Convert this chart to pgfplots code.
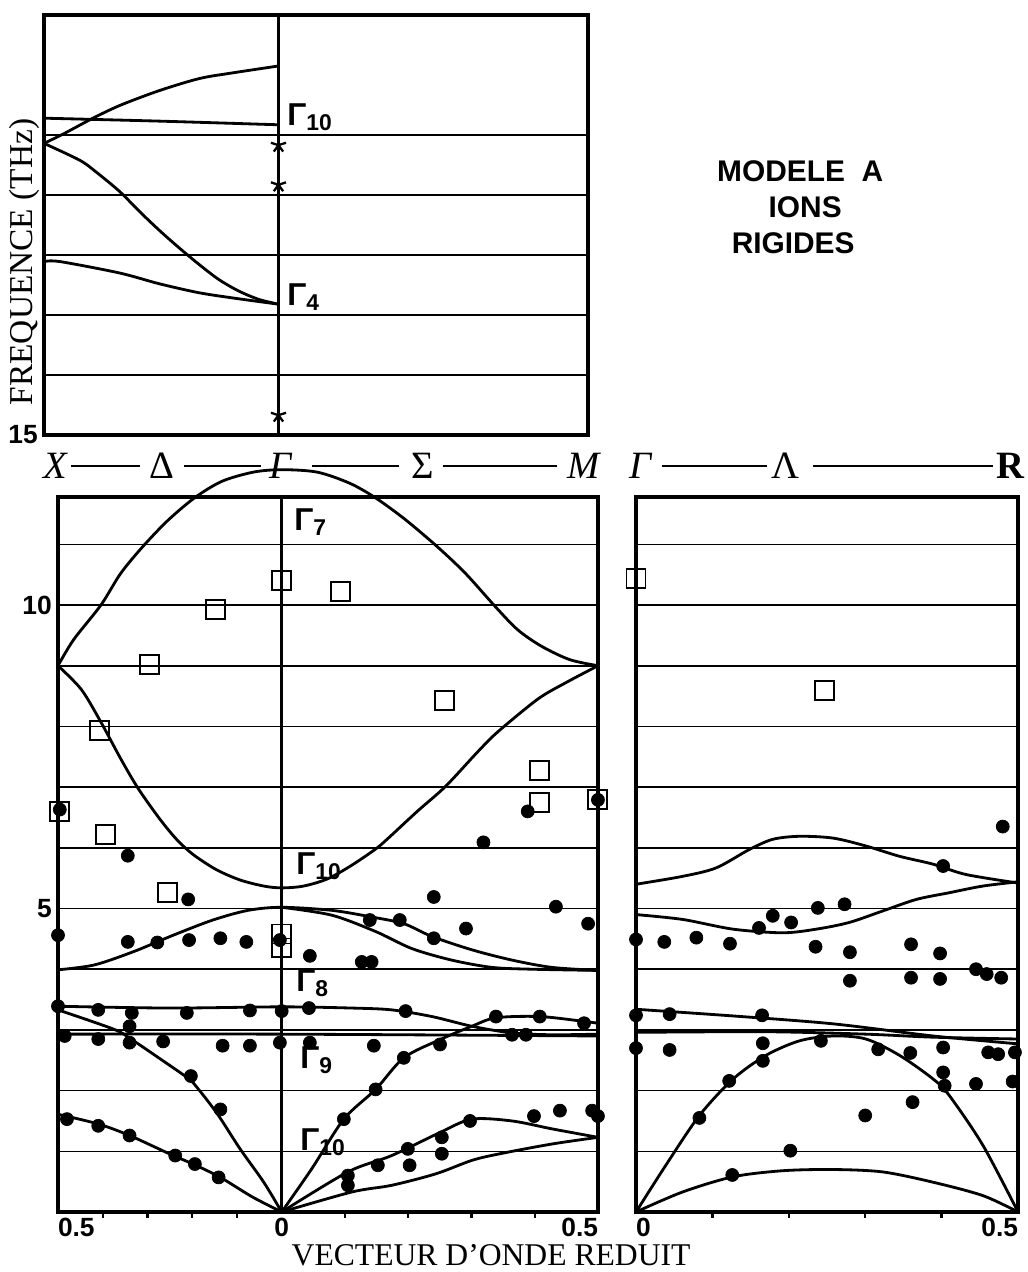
\documentclass[border=0pt]{standalone}
\usepackage{fontspec}
\setmainfont{Liberation Serif}
\setsansfont{Liberation Sans}
\usepackage{pgfplots}
\pgfplotsset{compat=1.18}

\pgfplotsset{
  panel/.style={
    anchor=south west, scale only axis, clip=false,
    axis line style={line width=2pt},
    ymajorgrids, grid style={black, line width=0.9pt},
    major tick length=0pt, minor tick length=0.12cm,
    tick align=outside, xtick pos=lower,
    minor tick style={black, line width=1.4pt},
    tick label style={font=\sffamily\bfseries\fontsize{15}{15}\selectfont},
  },
  curve/.style={black, line width=1.6pt, smooth, tension=0.5, no markers},
  dots/.style={only marks, mark=*, mark size=3.7pt, black},
  boxes/.style={only marks, mark=square, mark size=5.4pt, black, mark options={line width=1.1pt}},
}

\begin{document}
\begin{tikzpicture}

% ---- upper panel, 15-22 THz
\begin{axis}[panel, at={(0.88cm,16.74cm)}, width=10.88cm, height=8.4cm,
  xmin=-0.5, xmax=0.66, ymin=15, ymax=22,
  xtick=\empty, ytick={15,...,20}, yticklabels={15,,,,,}]
\draw[line width=2pt] (axis cs:0,15) -- (axis cs:0,22);
\addplot[curve] coordinates {(-0.5,19.86) (-0.458,20.02) (-0.398,20.27) (-0.339,20.49) (-0.254,20.74) (-0.169,20.94) (-0.102,21.03) (0,21.15)};
\addplot[curve] coordinates {(-0.5,20.28) (-0.25,20.23) (0,20.17)};
\addplot[curve] coordinates {(-0.5,19.86) (-0.424,19.58) (-0.390,19.39) (-0.339,19.06) (-0.297,18.73) (-0.254,18.41) (-0.212,18.12) (-0.169,17.84) (-0.127,17.59) (-0.085,17.40) (-0.042,17.26) (0,17.18)};
\addplot[curve] coordinates {(-0.5,17.89) (-0.466,17.89) (-0.339,17.70) (-0.254,17.52) (-0.169,17.37) (-0.085,17.27) (0,17.18)};
\addplot[only marks, mark=star, mark size=4.5pt, black, mark options={line width=1.3pt}] coordinates {(0,19.83) (0,19.17) (0,15.33)};
\end{axis}

% ---- X - Gamma - M panel
\begin{axis}[panel, at={(1.16cm,1.2cm)}, width=10.8cm, height=14.3cm,
  xmin=-0.5, xmax=0.7071, ymin=0, ymax=11.78,
  xtick={-0.5,0,0.7071}, xticklabels={\rlap{0.5},0,\llap{0.5}},
  minor xtick={-0.4,-0.3,-0.2,-0.1,0.1414,0.2828,0.4243,0.5657},
  ytick={1,...,11}, yticklabels={,,,,5,,,,,10,}]
\draw[line width=1.5pt] (axis cs:0,0) -- (axis cs:0,11.78);
% Gamma7
\addplot[curve] coordinates {(-0.5,9.0) (-0.465,9.43) (-0.404,10.0) (-0.360,10.52) (-0.312,10.95) (-0.255,11.39) (-0.194,11.77) (-0.133,12.04) (-0.063,12.19) (0,12.23) (0.079,12.19) (0.151,12.01) (0.209,11.77) (0.276,11.41) (0.348,10.96) (0.411,10.52) (0.478,9.97) (0.528,9.59) (0.581,9.32) (0.644,9.10) (0.7071,9.0)};
% Gamma10 upper
\addplot[curve] coordinates {(-0.5,9.0) (-0.448,8.61) (-0.404,8.07) (-0.360,7.47) (-0.321,6.98) (-0.273,6.48) (-0.235,6.14) (-0.198,5.89) (-0.146,5.64) (-0.093,5.47) (-0.040,5.37) (0,5.34) (0.049,5.37) (0.103,5.49) (0.156,5.71) (0.210,5.98) (0.237,6.15) (0.303,6.60) (0.366,7.01) (0.438,7.58) (0.483,7.91) (0.5725,8.45) (0.635,8.72) (0.7071,9.0)};
% 5 THz hump
\addplot[curve] coordinates {(-0.5,3.99) (-0.419,4.07) (-0.331,4.29) (-0.2425,4.56) (-0.154,4.81) (-0.075,4.97) (0,5.02) (0.112,4.97) (0.2014,4.86) (0.273,4.75) (0.3357,4.54) (0.425,4.32) (0.515,4.15) (0.604,4.03) (0.7071,3.98)};
\addplot[curve] coordinates {(0,5.02) (0.112,4.89) (0.2103,4.62) (0.291,4.34) (0.380,4.15) (0.470,4.03) (0.559,4.0) (0.7071,3.98)};
% flat bands
\addplot[curve] coordinates {(-0.5,3.39) (-0.25,3.36) (0,3.38) (0.157,3.36) (0.246,3.33) (0.336,3.22) (0.425,3.06) (0.515,2.95) (0.604,2.92) (0.7071,2.93)};
\addplot[curve] coordinates {(-0.5,2.93) (0,2.93) (0.7071,2.90)};
% acoustic branches
\addplot[curve] coordinates {(-0.5,3.33) (-0.375,3.01) (-0.335,2.84) (-0.269,2.51) (-0.216,2.24) (-0.198,2.13) (-0.146,1.64) (-0.093,1.04) (-0.040,0.49) (0,0)};
\addplot[curve] coordinates {(-0.5,1.61) (-0.41,1.45) (-0.34,1.26) (-0.2425,0.93) (-0.198,0.79) (-0.137,0.57) (-0.066,0.25) (0,0)};
\addplot[curve] coordinates {(0,0) (0.067,0.71) (0.139,1.53) (0.210,2.02) (0.273,2.54) (0.354,2.84) (0.425,3.06) (0.479,3.20) (0.577,3.22) (0.676,3.14) (0.7071,3.11)};
\addplot[curve] coordinates {(0,0) (0.148,0.66) (0.246,0.93) (0.354,1.31) (0.425,1.53) (0.515,1.50) (0.604,1.37) (0.7071,1.23)};
\addplot[curve] coordinates {(0,0) (0.157,0.33) (0.246,0.44) (0.345,0.63) (0.425,0.85) (0.488,0.96) (0.604,1.12) (0.7071,1.23)};
% measured points
\addplot[boxes] coordinates {(0,10.41) (0.131,10.23) (-0.148,9.92) (-0.296,9.02) (-0.408,7.93) (0.363,8.43) (0.577,7.28) (0.577,6.74) (-0.496,6.60) (-0.393,6.22) (0.707,6.79) (-0.256,5.27) (0,4.58) (0,4.35)};
\addplot[dots] coordinates {
(-0.5,4.56) (-0.344,5.87) (-0.209,5.15) (0.340,5.19) (0.613,5.03) (0.685,4.75)
(0.197,4.81) (0.264,4.81) (0.412,4.67) (0.340,4.51)
(-0.344,4.45) (-0.278,4.44) (-0.207,4.48) (-0.137,4.51) (-0.079,4.45) (-0.004,4.48)
(0.063,4.22) (0.179,4.12) (0.201,4.12)
(-0.5,3.39) (-0.41,3.33) (-0.335,3.28) (-0.212,3.28) (-0.071,3.32) (0,3.31) (0.061,3.36)
(0.277,3.31) (0.479,3.22) (0.577,3.22) (0.676,3.11) (0.515,2.92) (0.546,2.92)
(-0.34,3.06) (-0.485,2.90) (-0.41,2.85) (-0.34,2.79) (-0.265,2.81) (-0.132,2.74)
(-0.071,2.74) (-0.004,2.79) (0.063,2.79) (0.206,2.74) (0.354,2.76)
(0.273,2.54) (0.210,2.02) (0.139,1.53) (-0.203,2.24) (-0.137,1.69)
(-0.48,1.53) (-0.41,1.42) (-0.34,1.26) (-0.238,0.93) (-0.194,0.79) (-0.141,0.57)
(0.564,1.58) (0.622,1.67) (0.694,1.67) (0.707,1.58) (0.421,1.50)
(0.358,1.23) (0.358,0.96) (0.282,1.04) (0.286,0.77) (0.215,0.77) (0.148,0.60) (0.148,0.44)
(-0.496,6.63) (0.55,6.60) (0.451,6.09) (0.707,6.79)};
\end{axis}

% ---- Gamma - R panel
\begin{axis}[panel, at={(12.72cm,1.2cm)}, width=7.64cm, height=14.3cm,
  xmin=0, xmax=0.5, ymin=0, ymax=11.78,
  xtick={0,0.5}, xticklabels={\rlap{0},\llap{0.5}}, minor xtick={0.1,0.2,0.3,0.4},
  ytick={1,...,11}, yticklabels={}]
\addplot[curve] coordinates {(0,5.40) (0.061,5.53) (0.105,5.67) (0.148,5.97) (0.179,6.14) (0.214,6.19) (0.258,6.16) (0.301,6.03) (0.345,5.86) (0.389,5.73) (0.432,5.56) (0.5,5.42)};
\addplot[curve] coordinates {(0,4.90) (0.061,4.82) (0.127,4.66) (0.192,4.60) (0.236,4.66) (0.279,4.77) (0.323,4.96) (0.367,5.15) (0.410,5.26) (0.454,5.37) (0.5,5.44)};
\addplot[curve] coordinates {(0,3.34) (0.127,3.23) (0.258,3.10) (0.389,2.90) (0.5,2.77)};
\addplot[curve] coordinates {(0,2.96) (0.170,2.97) (0.301,2.93) (0.389,2.88) (0.5,2.85)};
\addplot[curve] coordinates {(0,0) (0.039,0.77) (0.083,1.59) (0.127,2.19) (0.170,2.58) (0.214,2.82) (0.258,2.90) (0.301,2.85) (0.345,2.58) (0.389,2.19) (0.410,1.92) (0.454,1.10) (0.5,0)};
\addplot[curve] coordinates {(0,0) (0.061,0.33) (0.127,0.58) (0.192,0.68) (0.258,0.70) (0.323,0.66) (0.389,0.49) (0.454,0.27) (0.5,0)};
\addplot[boxes] coordinates {(0,10.43) (0.247,8.59)};
\addplot[dots] coordinates {
(0.48,6.35) (0.402,5.70) (0.238,5.01) (0.273,5.07) (0.179,4.88) (0.203,4.77) (0.161,4.68)
(0,4.49) (0.037,4.45) (0.079,4.52) (0.123,4.42) (0.235,4.37) (0.280,4.28) (0.360,4.41) (0.398,4.26)
(0.280,3.81) (0.360,3.86) (0.398,3.84) (0.445,4.0) (0.459,3.92) (0.478,3.86)
(0,3.24) (0.044,3.26) (0.165,3.24)
(0,2.70) (0.044,2.67) (0.166,2.78) (0.166,2.49) (0.242,2.82) (0.317,2.68) (0.359,2.62)
(0.402,2.71) (0.402,2.30) (0.404,2.08) (0.461,2.63) (0.474,2.60) (0.496,2.63)
(0.445,2.11) (0.493,2.15) (0.122,2.16) (0.083,1.55) (0.362,1.81) (0.300,1.59) (0.202,1.01) (0.126,0.61)};
\end{axis}

% ---- annotations, in pixel units of the reference
\begin{scope}[x=0.02cm, y=-0.02cm, shift={(0cm,25.44cm)}]
\begin{scope}[font=\fontsize{22}{22}\selectfont, inner sep=0pt]
\node at (55,466) {\itshape X};
\node at (162,466) {Δ};
\node at (280,466) {\itshape Γ};
\node at (423,466) {Σ};
\node at (583,466) {\itshape M};
\node at (640,466) {\itshape Γ};
\node at (785,466) {Λ};
\node at (1010,466) {\bfseries R};
\end{scope}
\begin{scope}[line width=1pt]
\draw (71,466) -- (140,466);
\draw (184,466) -- (261,466);
\draw (312,466) -- (399,466);
\draw (443,466) -- (557,466);
\draw (662,466) -- (767,466);
\draw (813,466) -- (993,466);
\end{scope}
\begin{scope}[font=\sffamily\bfseries\fontsize{18}{18}\selectfont, inner sep=0pt]
\node[anchor=west] at (287,117) {Γ\raisebox{-0.3ex}{\fontsize{13}{13}\selectfont 10}};
\node[anchor=west] at (287,297) {Γ\raisebox{-0.3ex}{\fontsize{13}{13}\selectfont 4}};
\node[anchor=west] at (294,522) {Γ\raisebox{-0.3ex}{\fontsize{13}{13}\selectfont 7}};
\node[anchor=west] at (296,866) {Γ\raisebox{-0.3ex}{\fontsize{13}{13}\selectfont 10}};
\node[anchor=west] at (296,983) {Γ\raisebox{-0.3ex}{\fontsize{13}{13}\selectfont 8}};
\node[anchor=west] at (300,1060) {Γ\raisebox{-0.3ex}{\fontsize{13}{13}\selectfont 9}};
\node[anchor=west] at (300,1142) {Γ\raisebox{-0.3ex}{\fontsize{13}{13}\selectfont 10}};
\end{scope}
\begin{scope}[font=\sffamily\bfseries\fontsize{17}{17}\selectfont, inner sep=0pt]
\node at (800,171) {MODELE\ \ A};
\node at (805,207) {IONS};
\node at (793,243) {RIGIDES};
\end{scope}
\node[rotate=90, font=\fontsize{19}{19}\selectfont, inner sep=0pt] at (24,262) {FREQUENCE (THz)};
\node[font=\fontsize{18}{18}\selectfont, inner sep=0pt] at (491,1255) {VECTEUR D'ONDE REDUIT};
\end{scope}

\pgfresetboundingbox
\path[use as bounding box] (0,0) rectangle (20.54,25.44);
\end{tikzpicture}
\end{document}
